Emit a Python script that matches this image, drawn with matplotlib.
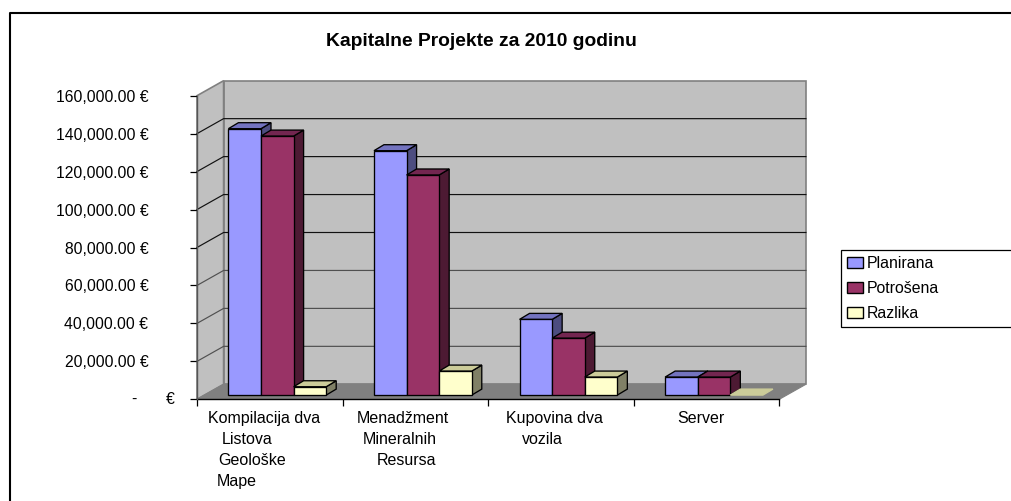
# capital projects chart, excel style 3d columns drawn by hand on a flat axes
import matplotlib
matplotlib.use("Agg")
import matplotlib.pyplot as plt
from matplotlib.patches import Patch, Polygon
from matplotlib.transforms import Affine2D

plt.rcParams['font.family'] = ['Liberation Sans', 'DejaVu Sans']

# data
projects = ["Kompilacija dva", "Menadžment", "Kupovina dva", "Server"]
planirana = [140400, 128800, 39900, 9500]
potrosena = [136500, 116000, 30000, 9500]
razlika = [4400, 12650, 9500, 0]
series_names = ["Planirana", "Potrošena", "Razlika"]
y_ticks = [0, 20000, 40000, 60000, 80000, 100000, 120000, 140000, 160000]

# extra wrapped lines of the category labels, the leading offset is in pixels
label_lines = [
    [("Kompilacija dva", 208), ("Listova", 222), ("Geološke", 218), ("Mape", 217)],
    [("Menadžment", 357), ("Mineralnih", 363), ("Resursa", 377)],
    [("Kupovina dva", 506), ("vozila", 522)],
    [("Server", 677)],
]

# front, top, side colours
colors = [("#9999FF", "#7373BF", "#4D4D80"),
          ("#993366", "#732650", "#4D1A33"),
          ("#FFFFCC", "#CCCC99", "#808066")]

W, H = 1011, 501
fig = plt.figure(figsize=(W / 100, H / 100), dpi=100, facecolor="white")
# pixel coordinates from the top left, for frame and labels
px = Affine2D().scale(1 / W, -1 / H).translate(0, 1) + fig.transFigure

left, right, top, bottom = 197, 779.3, 95.7, 399.3
ax = fig.add_axes([left / W, 1 - bottom / H, (right - left) / W, (bottom - top) / H])
ax.set_xlim(0, 4)
ax.set_ylim(0, 160000)
ax.patch.set_visible(False)
for s in ax.spines.values():
    s.set_visible(False)

# helpers to go from pixels to data units
xu = 4 / (right - left)
yu = 160000 / (bottom - top)
wall_dx, wall_dy = 26.6 * xu, 15 * yu
bar_dx, bar_dy = 10 * xu, 6 * yu
base_dy = 4.2 * yu
bar_w = 32.6 * xu
bar_start = 31.4 * xu


def poly(points, fc, ec, lw, z=1):
    ax.add_patch(Polygon(points, closed=True, facecolor=fc, edgecolor=ec, lw=lw,
                         zorder=z, clip_on=False, joinstyle="miter"))


# walls and floor
poly([(wall_dx, wall_dy), (4 + wall_dx, wall_dy), (4 + wall_dx, 160000 + wall_dy), (wall_dx, 160000 + wall_dy)],
     "#C0C0C0", "#808080", 1.2)
poly([(0, 0), (wall_dx, wall_dy), (wall_dx, 160000 + wall_dy), (0, 160000)], "#C0C0C0", "#808080", 1.2)

# gridlines on both walls, the lower ones come out greyer in the original
for v in y_ticks[1:-1]:
    grid_c = "#111111" if v >= 80000 else "#505050"
    ax.plot([0, wall_dx, 4 + wall_dx], [v, v + wall_dy, v + wall_dy], color=grid_c, lw=0.85, zorder=2,
            clip_on=False)

poly([(0, 0), (4, 0), (4 + wall_dx, wall_dy), (wall_dx, wall_dy)], "#808080", "#808080", 0.8, z=3)

# bars, back faces first so the next column sits over the side of the last
values = [planirana, potrosena, razlika]
for i in range(len(projects)):
    for j, vals in enumerate(values):
        v = vals[i]
        x0 = i + bar_start + j * bar_w
        x1 = x0 + bar_w
        y0 = base_dy
        y1 = base_dy + v
        front, top_c, side = colors[j]
        if v > 0:
            poly([(x1, y0), (x1 + bar_dx, y0 + bar_dy), (x1 + bar_dx, y1 + bar_dy), (x1, y1)], side, "black", 0.95, z=4)
        poly([(x0, y1), (x1, y1), (x1 + bar_dx, y1 + bar_dy), (x0 + bar_dx, y1 + bar_dy)], top_c,
             "black" if v > 0 else "#CCCC99", 0.95, z=4)
        if v > 0:
            ax.bar(x0, v, width=bar_w, bottom=y0, align="edge", color=front, edgecolor="black", lw=0.95, zorder=4,
                   clip_on=False)

# axis lines and ticks
ax.plot([0, 4], [0, 0], color="black", lw=1.0, zorder=5, clip_on=False)
ax.plot([0, 0], [0, 160000], color="#555555", lw=1.0, zorder=5, clip_on=False)
ax.set_xticks(range(5))
ax.set_xticklabels([])
ax.set_yticks(y_ticks)
ax.set_yticklabels([f"{v:,.2f} €" if v else "" for v in y_ticks], fontsize=11.3, color="black")
ax.tick_params(axis="both", length=5, width=0.9, color="black", direction="out")
ax.tick_params(axis="y", pad=30)

# zero label is spread out in the original
fig.text(134, 399, "-", transform=px, fontsize=11.3, ha="center", va="center")
fig.text(170, 399.5, "€", transform=px, fontsize=11.3, ha="center", va="center")

# category labels, each wrapped line has its own indent
for lines in label_lines:
    for k, (txt, x) in enumerate(lines):
        fig.text(x, 419 + k * 20.7, txt, transform=px, fontsize=11.5, ha="left", va="center")

fig.text(481, 42, "Kapitalne Projekte za 2010 godinu", transform=px, fontsize=13.9, fontweight="bold",
         ha="center", va="center")

# legend runs off the right edge like the frame does
handles = [Patch(facecolor=c[0], edgecolor="black", lw=1.0) for c in colors]
leg = fig.legend(handles, series_names, loc="center",
                 bbox_to_anchor=(841 / W, 1 - 327 / H, 190 / W, 77 / H), mode="expand", borderaxespad=0,
                 fontsize=11.4, fancybox=False, edgecolor="black", framealpha=1, handlelength=1.04,
                 handleheight=0.68, handletextpad=0.2, labelspacing=0.65, borderpad=0.36)
leg.get_frame().set_linewidth(0.9)

# outer frame, only left and top are inside the picture
fig.add_artist(plt.Line2D([10, 10, W + 5], [H + 5, 13, 13], transform=px, color="black", lw=1.5))

fig.savefig("out.png", dpi=100)
